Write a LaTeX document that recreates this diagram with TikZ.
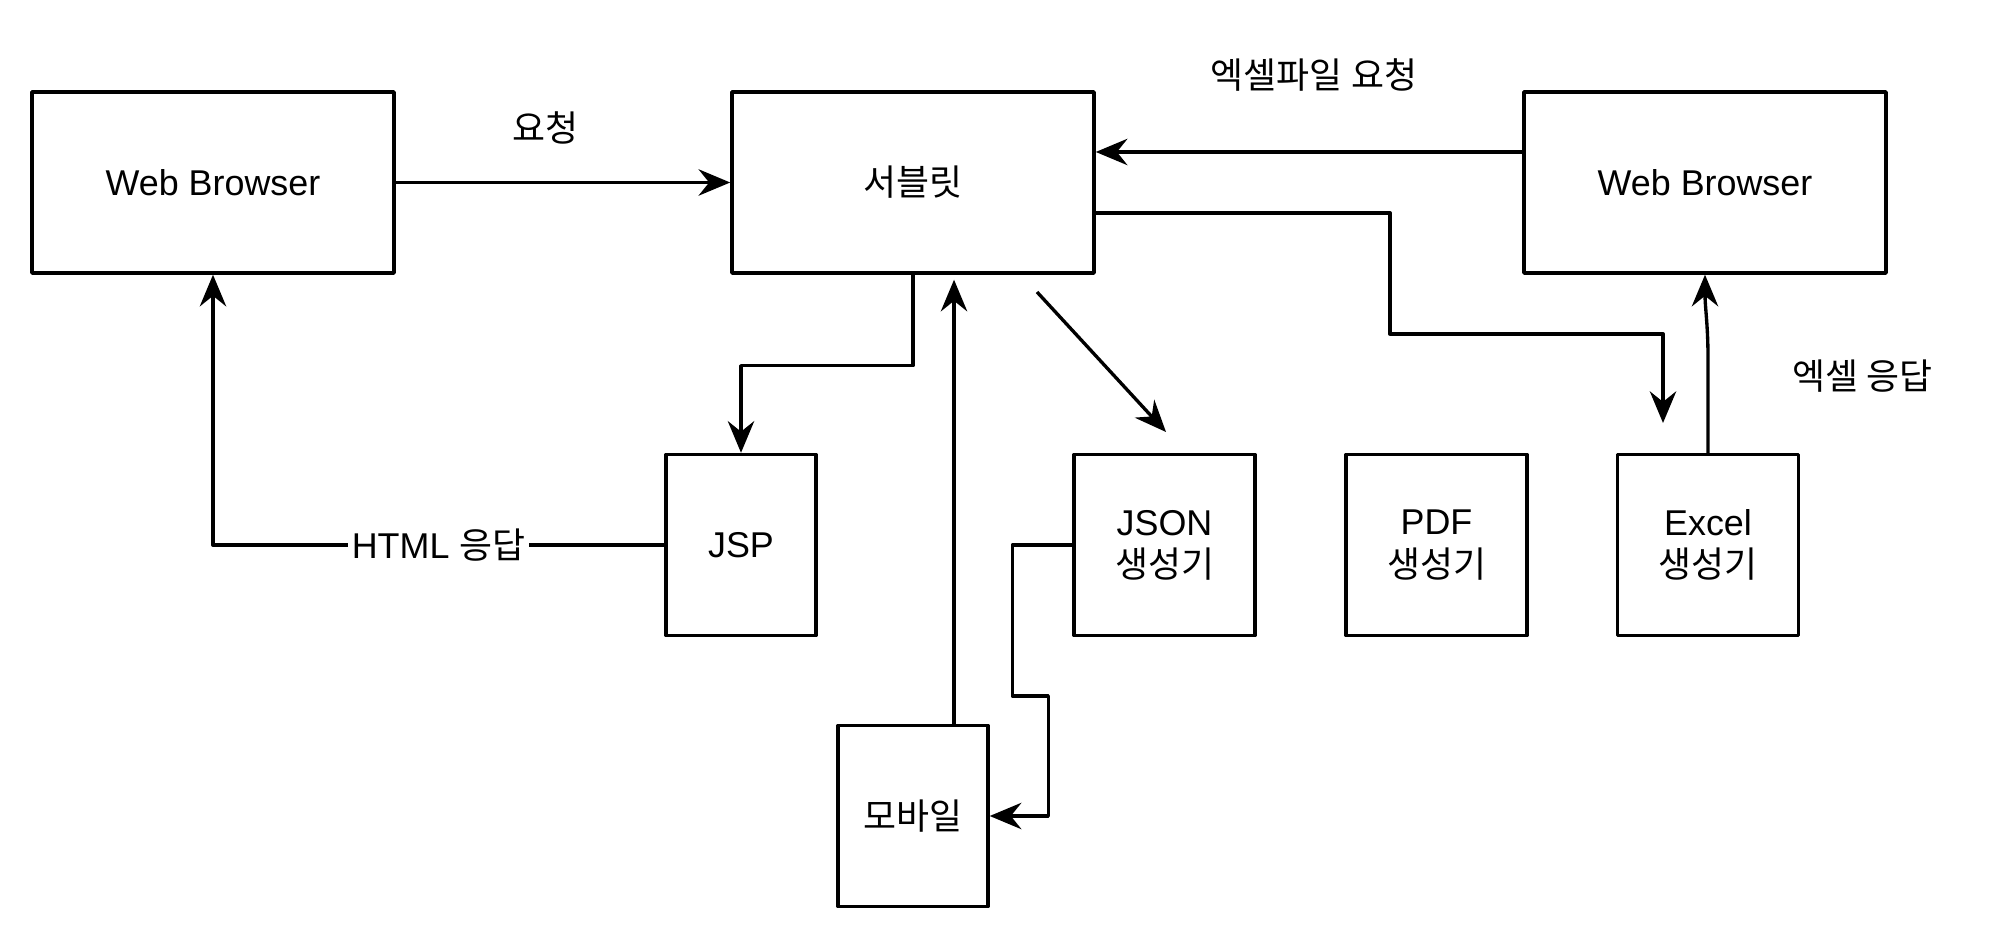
\documentclass[tikz,border=0pt]{standalone}
\usepackage{fontspec}
\setmainfont{Liberation Sans}
\newfontfamily\kr{Noto Sans CJK KR}[Scale=1.0]
\usetikzlibrary{arrows.meta}

\begin{document}
\begin{tikzpicture}[line join=round, x=0.01cm, y=-0.01cm, line width=0.95pt, >={Stealth[length=9pt,width=7.5pt,inset=3pt]}, font=\fontsize{10.2}{12}\selectfont]
	\tikzset{box/.style={draw, inner sep=0pt, align=center, minimum width=#1, minimum height=1.81cm}}
	\useasboundingbox (0,0) rectangle (2000,940);
	\node[box=3.62cm] (web1) at (213,182.5) {Web Browser};
	\node[box=3.62cm] (servlet) at (913,182.5) {\kr 서블릿};
	\node[box=3.62cm] (web2) at (1705,182.5) {Web Browser};
	\node[box=1.5cm] (jsp) at (741,545) {JSP};
	\node[box=1.81cm] (json) at (1164.5,545) {JSON\\{\kr 생성기}};
	\node[box=1.81cm] (pdf) at (1436.5,545) {PDF\\{\kr 생성기}};
	\node[box=1.81cm] (excel) at (1708,545) {Excel\\{\kr 생성기}};
	\node[box=1.5cm] (mobile) at (913,816) {\kr 모바일};
	\node (req) at (545,128) {\kr 요청};
	\node (xreq) at (1314,75) {\kr 엑셀파일 요청};
	\node (xres) at (1862,376) {\kr 엑셀 응답};
	\coordinate (d1) at (1037,292);
	\coordinate (d2) at (1166,432);
	\coordinate (xout) at (1663,423);
	\draw[->] (web1) -- (servlet);
	\draw[->] (servlet.south) -- ++(0,91) -| (jsp.north);
	\draw[->] (jsp.west) -| node[pos=0.25, fill=white, inner sep=1pt] (html) {HTML {\kr 응답}} (web1.south);
	\draw[->] ([xshift=0.41cm]mobile.north) -- ([xshift=0.41cm,yshift=-0.05cm]servlet.south);
	\draw[->] (d1) -- (d2);
	\draw[->] (json.west) -- ++(-60,0) -- ++(0,151) -- ++(36,0) |- (mobile.east);
	\draw[->] ([yshift=0.305cm]web2.west) -- ([yshift=0.305cm]servlet.east);
	\draw[->] ([yshift=-0.305cm]servlet.east) -| (1390,334) -| (xout);
	\draw[->] (excel.north) -- ++(0,-95) to[out=90, in=-90] (web2.south);
\end{tikzpicture}
\end{document}
